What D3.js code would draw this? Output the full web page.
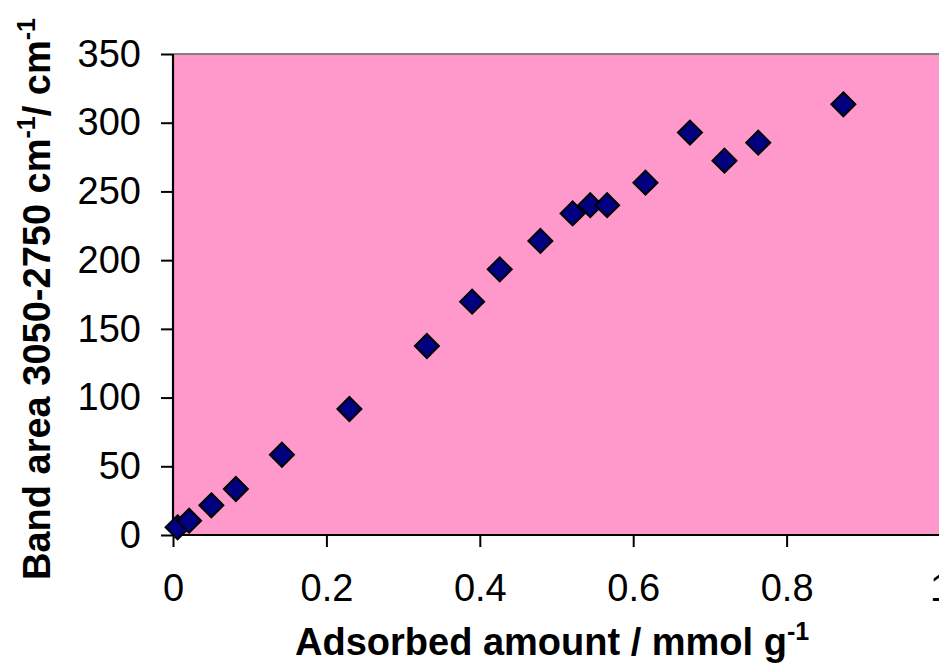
<!DOCTYPE html>
<html>
<head>
<meta charset="utf-8">
<script src="https://cdn.jsdelivr.net/npm/d3@7"></script>
<style>
  html, body { margin: 0; padding: 0; background: #fff; }
  svg { display: block; font-family: "Liberation Sans", Arial, sans-serif; }
</style>
</head>
<body>
<svg id="chart" width="939" height="664"></svg>
<script>
const adsorbed = [0.006, 0.021, 0.050, 0.082, 0.142, 0.230, 0.331, 0.390, 0.426, 0.479, 0.521, 0.544, 0.566, 0.616, 0.674, 0.719, 0.763, 0.874];
const bandArea = [5.6, 10.4, 21.6, 33.5, 58.4, 91.7, 137.5, 169.8, 193.3, 214, 234, 240, 240, 256.4, 292.8, 272.4, 285.5, 313.4];
const xTicks = [0, 0.2, 0.4, 0.6, 0.8, 1];
const xTickLabels = ["0", "0.2", "0.4", "0.6", "0.8", "1"];
const yTicks = [0, 50, 100, 150, 200, 250, 300, 350];

(function () {
const svg = d3.select("#chart");
const pL = 173, pT = 54, pB = 535, pR = 940;
const x = d3.scaleLinear().domain([0, 1]).range([pL, pR]);
const y = d3.scaleLinear().domain([0, 350]).range([pB, pT]);

// plot area
svg.append("rect")
  .attr("x", pL).attr("y", pT)
  .attr("width", pR - pL + 10).attr("height", pB - pT)
  .attr("fill", "#FF99CC");
// top border
svg.append("line")
  .attr("x1", pL).attr("x2", 939).attr("y1", pT).attr("y2", pT)
  .attr("stroke", "#808080").attr("stroke-width", 2);

// axes
const yAxis = d3.axisLeft(y).tickValues(yTicks).tickSize(12).tickPadding(20).tickFormat(d3.format("d"));
const gy = svg.append("g").attr("transform", `translate(${pL},0)`).call(yAxis);
const xAxis = d3.axisBottom(x).tickValues(xTicks).tickSize(12).tickPadding(27)
  .tickFormat((d, i) => xTickLabels[i]);
const gx = svg.append("g").attr("transform", `translate(0,${pB})`).call(xAxis);

[gx, gy].forEach(g => {
  g.select(".domain").attr("stroke", "#000").attr("stroke-width", 2.2);
  g.selectAll(".tick line").attr("stroke", "#000").attr("stroke-width", 2);
  g.selectAll(".tick text").attr("fill", "#000").style("font-size", "38px")
    .style("font-family", '"Liberation Sans", Arial, sans-serif');
});
gx.select(".domain").attr("d", `M${pL},0H939`);
gy.select(".domain").attr("d", `M0,${pT}V${pB}`);

// markers
const diamond = "M0,-12L12,0L0,12L-12,0Z";
svg.append("g").selectAll("path")
  .data(adsorbed.map((d, i) => [d, bandArea[i]]))
  .join("path")
  .attr("d", diamond)
  .attr("transform", d => `translate(${x(d[0])},${y(d[1])})`)
  .attr("fill", "#000080")
  .attr("stroke", "#000")
  .attr("stroke-width", 2);

// x title
const xt = svg.append("text")
  .attr("x", 295).attr("y", 655)
  .attr("text-anchor", "start")
  .style("font-size", "38px").style("font-weight", "bold");
xt.append("tspan").text("Adsorbed amount / mmol g");
xt.append("tspan").attr("dy", -15).style("font-size", "25px").text("-1");

// y title
const yt = svg.append("text")
  .attr("transform", "translate(50,580) rotate(-90)")
  .attr("text-anchor", "start")
  .style("font-size", "38px").style("font-weight", "bold");
yt.append("tspan").text("Band area 3050-2750 cm");
yt.append("tspan").attr("dy", -15).style("font-size", "25px").text("-1");
yt.append("tspan").attr("dy", 15).text("/ cm");
yt.append("tspan").attr("dy", -15).style("font-size", "25px").text("-1");
})();
</script>
</body>
</html>
